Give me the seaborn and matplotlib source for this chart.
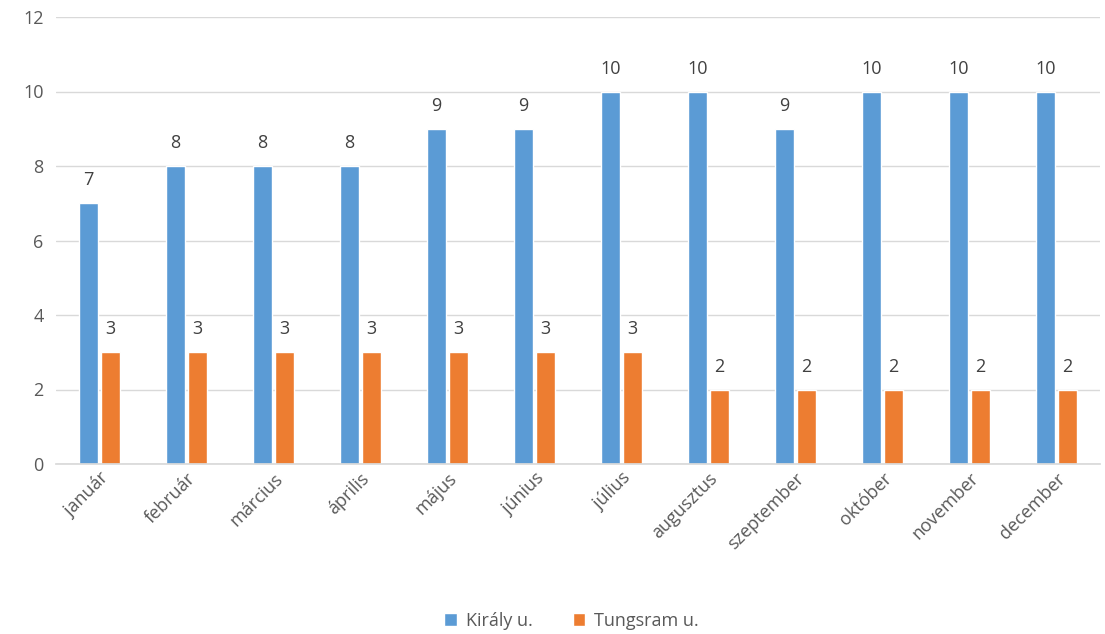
import numpy as np
import pandas as pd
import matplotlib
matplotlib.use('Agg')
import matplotlib.pyplot as plt
import seaborn as sns

# ── Data ──────────────────────────────────────────────────────
MONTHS = ["január", "február", "március", "április", "május", "június",
          "július", "augusztus", "szeptember", "október", "november", "december"]
KIRALY = [7, 8, 8, 8, 9, 9, 10, 10, 9, 10, 10, 10]
TUNGSRAM = [3, 3, 3, 3, 3, 3, 3, 2, 2, 2, 2, 2]
SERIES = ["Király u.", "Tungsram u."]
COLORS = ["#5B9BD5", "#ED7D31"]

df = pd.DataFrame({
    "month": MONTHS * 2,
    "value": KIRALY + TUNGSRAM,
    "series": [SERIES[0]] * len(MONTHS) + [SERIES[1]] * len(MONTHS),
})

sns.set_theme(style="white")
plt.rcParams['font.family'] = ['Open Sans', 'DejaVu Sans']
TEXT = "#404040"

fig = plt.figure(figsize=(11.05, 6.34), dpi=100)
ax = fig.add_axes([56 / 1105, 1 - 464 / 634, 1044 / 1105, 447 / 634])

sns.barplot(data=df, x="month", y="value", hue="series", palette=COLORS,
            width=0.5, saturation=1, ax=ax, legend=True)

# small gap between the paired bars
for p in ax.patches:
    w = p.get_width()
    if w > 0:
        p.set_width(w * 0.9)
        p.set_x(p.get_x() + w * 0.05)

for cont in ax.containers:
    ax.bar_label(cont, padding=10, fontsize=13, color=TEXT)

ax.set_ylim(0, 12)
ax.set_yticks(range(0, 13, 2))
ax.yaxis.grid(True, color="#D9D9D9", linewidth=1)
ax.set_axisbelow(True)
ax.set_xlabel("")
ax.set_ylabel("")
for s in ["top", "right", "left"]:
    ax.spines[s].set_visible(False)
ax.spines["bottom"].set_color("#D9D9D9")
ax.tick_params(axis="y", labelsize=13, labelcolor="#595959", length=0, pad=9)
ax.tick_params(axis="x", labelsize=13, labelcolor="#595959", length=0, pad=4)
plt.setp(ax.get_xticklabels(), rotation=45, ha="right", rotation_mode="anchor")

ax.legend(loc="center", bbox_to_anchor=(0.494, -0.351), ncol=2, frameon=False,
          fontsize=13, handlelength=0.7, handleheight=0.7, columnspacing=2.2,
          handletextpad=0.5, labelcolor="#595959")

fig.savefig("out.png", dpi=100)
